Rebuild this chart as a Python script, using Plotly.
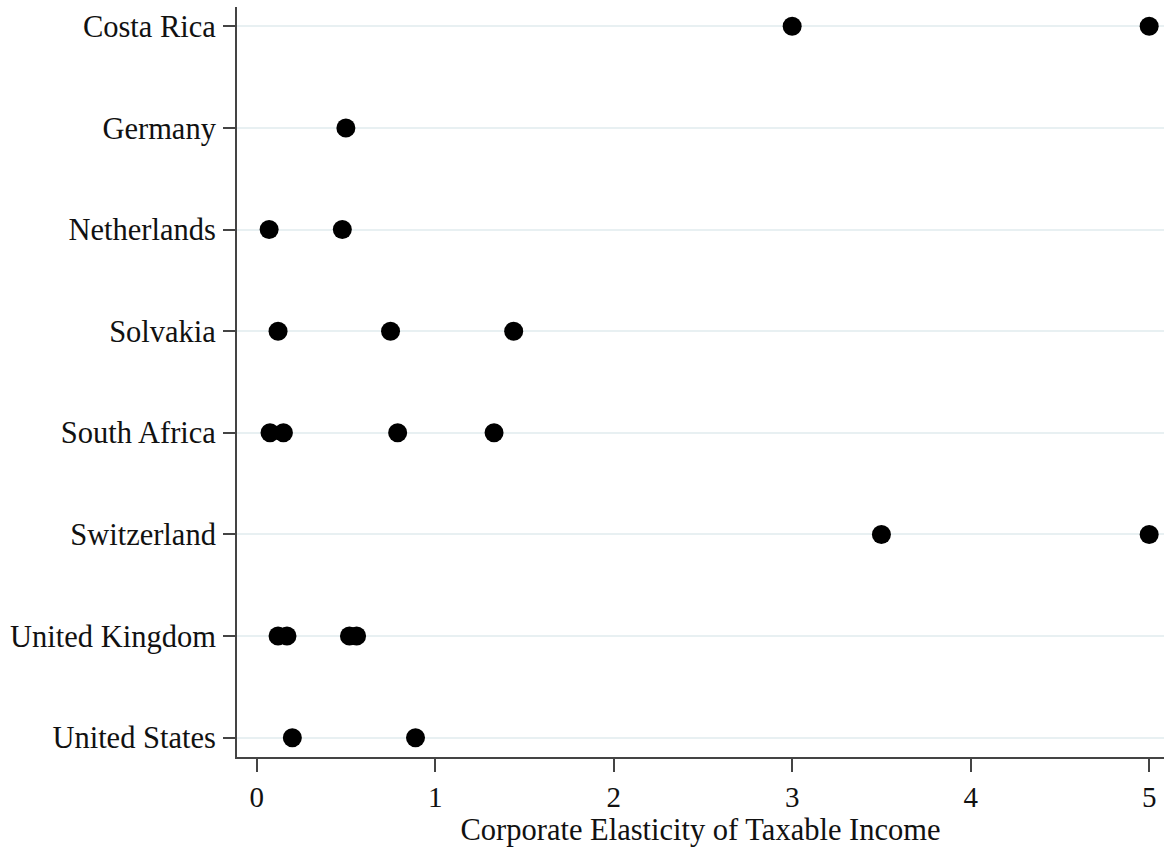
import plotly.graph_objects as go

countries = ["Costa Rica", "Germany", "Netherlands", "Solvakia",
             "South Africa", "Switzerland", "United Kingdom", "United States"]
costa_rica = [3.0, 5.0]
germany = [0.50]
netherlands = [0.07, 0.48]
solvakia = [0.12, 0.75, 1.44]
south_africa = [0.075, 0.15, 0.79, 1.33]
switzerland = [3.5, 5.0]
united_kingdom = [0.12, 0.17, 0.52, 0.56]
united_states = [0.20, 0.89]
series = [costa_rica, germany, netherlands, solvakia,
          south_africa, switzerland, united_kingdom, united_states]
x_ticks = [0, 1, 2, 3, 4, 5]

xs, ys = [], []
for c, vals in zip(countries, series):
    for v in vals:
        xs.append(v)
        ys.append(c)

fig = go.Figure(go.Scatter(
    x=xs, y=ys, mode="markers",
    marker=dict(color="black", size=19, line=dict(width=0)),
    showlegend=False, cliponaxis=False,
))

font = "Liberation Serif, Times New Roman, serif"
fig.update_layout(
    width=1164, height=847,
    margin=dict(l=237, r=0, t=7, b=90),
    paper_bgcolor="white", plot_bgcolor="white",
    font=dict(family=font, size=30, color="#111"),
    xaxis=dict(
        range=[-0.11, 5.083], tickvals=x_ticks, ticktext=[str(t) for t in x_ticks],
        showgrid=False, zeroline=False,
        showline=True, linecolor="#444", linewidth=2,
        ticks="outside", ticklen=13, tickwidth=2, tickcolor="#444",
        tickfont=dict(size=29),
        title=dict(text="Corporate Elasticity of Taxable Income", standoff=2,
                   font=dict(size=30.5)),
    ),
    yaxis=dict(
        type="category", categoryorder="array", categoryarray=countries,
        range=[7.19, -0.19],
        showgrid=True, gridcolor="#e8f0f2", gridwidth=2,
        zeroline=False,
        showline=True, linecolor="#444", linewidth=2,
        ticks="outside", ticklen=12, tickwidth=2, tickcolor="#444",
        ticklabelstandoff=1,
        tickfont=dict(size=30.5),
    ),
)

fig.write_html("out.html")
